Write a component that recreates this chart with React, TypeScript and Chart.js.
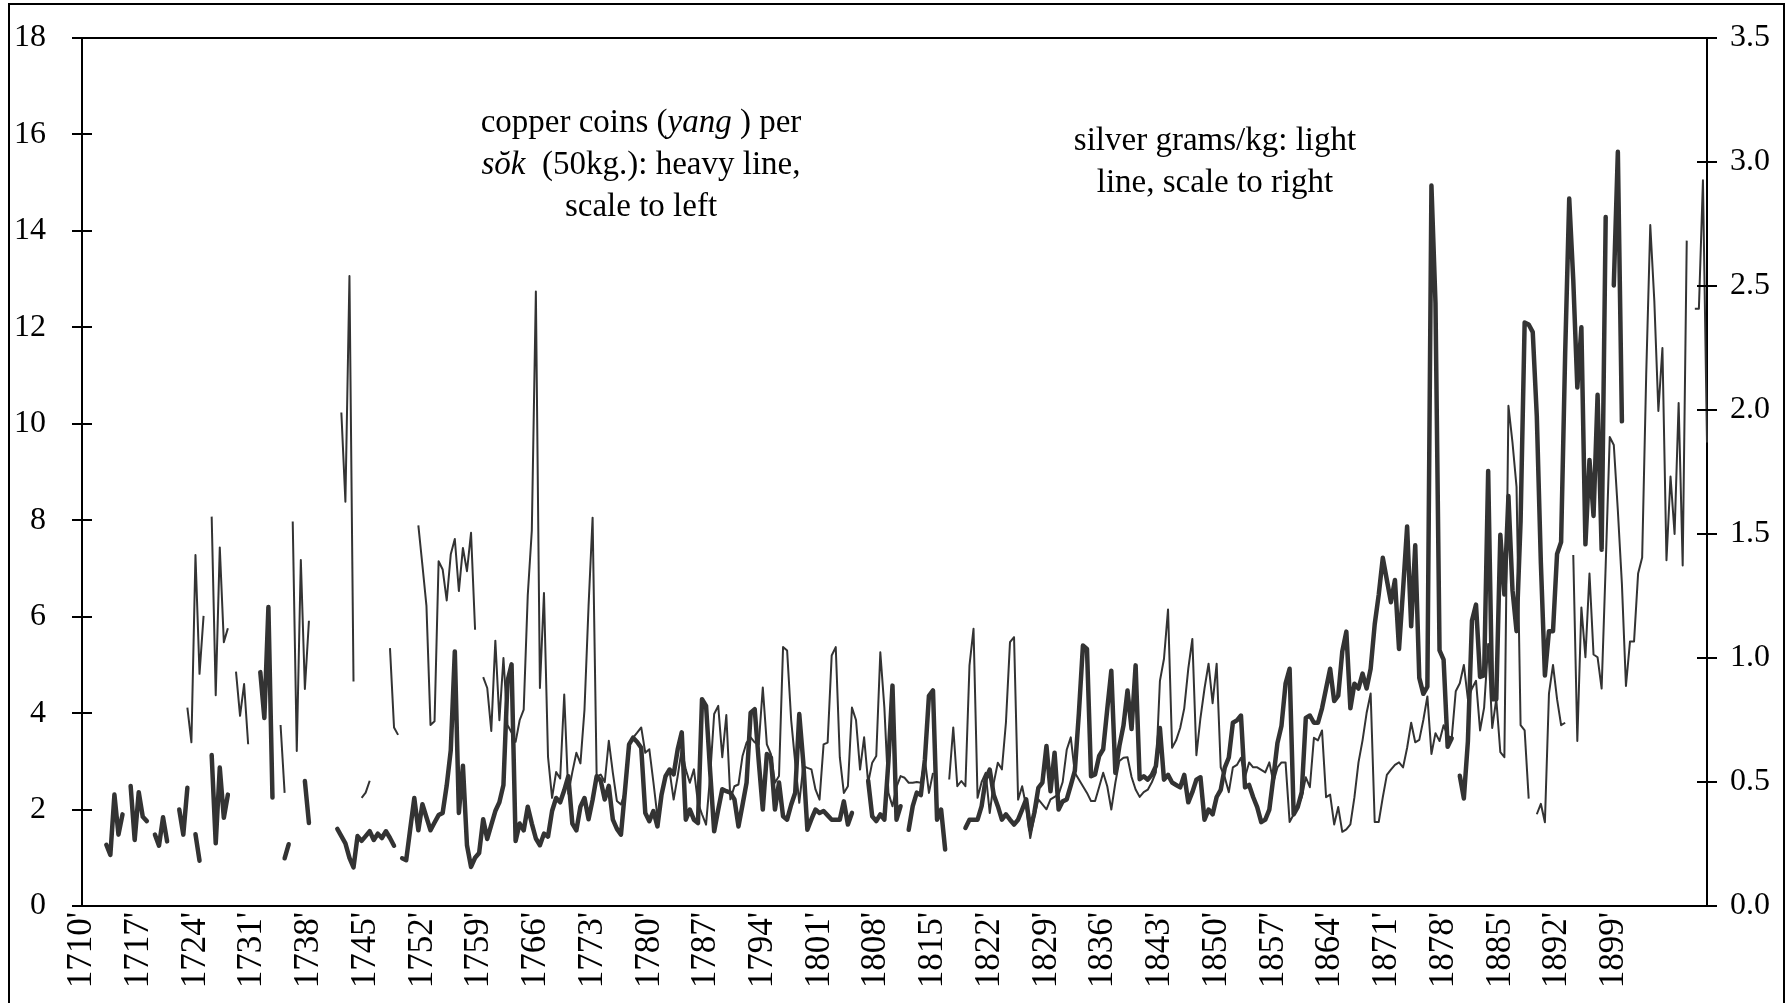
import React, { useEffect, useRef } from "react";
import { Chart, registerables } from "chart.js";

Chart.register(...registerables);

// Categories: two observations per year, 1710' .. 1910''
const firstYear = 1710;
const lastYear = 1910;
const categories: string[] = [];
for (let y = firstYear; y <= lastYear; y++) {
  categories.push(`${y}'`);
  categories.push(`${y}''`);
}

// Tick labels shown on the category axis
const xTickLabels = [
  "1710'", "1717'", "1724'", "1731'", "1738'", "1745'", "1752'", "1759'", "1766'", "1773'",
  "1780'", "1787'", "1794'", "1801'", "1808'", "1815'", "1822'", "1829'", "1836'", "1843'",
  "1850'", "1857'", "1864'", "1871'", "1878'", "1885'", "1892'", "1899'",
];

const leftTickValues = [0, 2, 4, 6, 8, 10, 12, 14, 16, 18];
const rightTickValues = [0, 0.5, 1.0, 1.5, 2.0, 2.5, 3.0, 3.5];

// copper coins (yang) per sok - heavy line, left scale
const copperYang: (number | null)[] = [
  null, null, null, null, null, null, 1.27, 1.06, 2.31, 1.48,
  1.9, null, 2.49, 1.37, 2.36, 1.85, 1.76, null, 1.48, 1.25,
  1.84, 1.34, null, null, 2.0, 1.48, 2.45, null, 1.49, 0.94,
  null, null, 3.13, 1.3, 2.87, 1.83, 2.31, null, null, null,
  null, null, null, null, 4.85, 3.9, 6.2, 2.25, null, null,
  0.99, 1.28, null, null, null, 2.59, 1.72, null, null, null,
  null, null, null, 1.6, 1.45, 1.3, 1.0, 0.8, 1.45, 1.35,
  1.45, 1.55, 1.37, 1.5, 1.41, 1.55, 1.41, 1.25, null, 0.99,
  0.95, 1.6, 2.24, 1.57, 2.11, 1.84, 1.57, 1.73, 1.885, 1.93,
  2.5, 3.23, 5.28, 1.93, 2.91, 1.26, 0.81, 1.0, 1.1, 1.8,
  1.39, 1.68, 1.97, 2.15, 2.51, 4.66, 5.01, 1.35, 1.71, 1.57,
  2.06, 1.71, 1.4, 1.26, 1.5, 1.44, 1.97, 2.24, 2.15, 2.4,
  2.69, 1.71, 1.57, 2.06, 2.24, 1.8, 2.2, 2.69, 2.6, 2.21,
  2.49, 1.79, 1.6, 1.48, 2.4, 3.35, 3.49, 3.4, 3.28, 1.93,
  1.76, 1.97, 1.65, 2.3, 2.69, 2.83, 2.73, 3.25, 3.6, 1.79,
  2.0, 1.79, 1.72, 4.29, 4.15, 2.8, 1.55, 2.0, 2.42, 2.38,
  2.35, 2.21, 1.65, 2.1, 2.56, 4.01, 4.08, 3.0, 2.0, 3.15,
  3.08, 2.0, 2.56, 1.86, 1.79, 2.1, 2.35, 3.98, 2.97, 1.58,
  1.8, 2.0, 1.93, 1.97, 1.88, 1.79, 1.79, 1.79, 2.17, 1.69,
  1.93, null, null, null, 2.6, 1.86, 1.76, 1.9, 1.79, 3.0,
  4.57, 1.79, 2.07, null, 1.58, 2.07, 2.35, 2.3, 3.04, 4.36,
  4.47, 1.79, 2.0, 1.17, null, null, null, null, 1.62, 1.79,
  1.79, 1.79, 2.07, 2.63, 2.83, 2.3, 2.07, 1.79, 1.9, 1.79,
  1.69, 1.79, 2.0, 2.21, 1.58, 1.93, 2.45, 2.56, 3.32, 2.38,
  3.18, 2.0, 2.17, 2.21, 2.5, 2.8, 4.0, 5.4, 5.33, 2.69,
  2.73, 3.11, 3.25, 4.08, 4.88, 2.76, 3.32, 3.74, 4.47, 3.67,
  4.99, 2.63, 2.69, 2.62, 2.72, 2.9, 3.69, 2.62, 2.72, 2.56,
  2.51, 2.46, 2.72, 2.15, 2.36, 2.62, 2.67, 1.79, 2.0, 1.9,
  2.26, 2.41, 2.87, 3.08, 3.8, 3.85, 3.95, 2.46, 2.51, 2.26,
  2.05, 1.74, 1.79, 2.0, 2.67, 3.38, 3.74, 4.61, 4.92, 1.9,
  2.05, 2.36, 3.9, 3.95, 3.8, 3.8, 4.1, 4.51, 4.92, 4.25,
  4.36, 5.28, 5.69, 4.1, 4.61, 4.51, 4.82, 4.51, 4.92, 5.84,
  6.46, 7.22, 6.76, 6.3, 6.76, 5.33, 6.56, 7.87, 5.8, 7.48,
  4.73, 4.4, 4.55, 14.94, 12.5, 5.3, 5.11, 3.3, 3.48, null,
  2.7, 2.23, 3.42, 5.92, 6.25, 4.75, 4.78, 9.02, 4.29, 4.29,
  7.7, 6.46, 8.5, 6.55, 5.7, 7.98, 12.1, 12.06, 11.9, 10.16,
  7.12, 4.78, 5.7, 5.7, 7.3, 7.55, 11.46, 14.67, 12.98, 10.75,
  12.0, 7.5, 9.25, 8.09, 10.6, 7.39, 14.29, null, 12.87, 15.64,
  10.05, null, null, null, null, null, null, null, null, null,
  null, null, null, null, null, null, null, null, null, null,
  null, null,
];

// silver grams per kg - light line, right scale
const silverGramsPerKg: (number | null)[] = [
  null, null, null, null, null, null, null, null, null, null,
  null, null, null, null, null, null, null, null, null, null,
  null, null, null, null, null, null, 0.8, 0.66, 1.415, 0.936,
  1.17, null, 1.57, 0.85, 1.446, 1.064, 1.12, null, 0.945, 0.767,
  0.895, 0.652, null, null, null, null, null, null, null, 0.73,
  0.456, null, 1.55, 0.625, 1.395, 0.875, 1.15, null, null, null,
  null, null, null, null, 1.99, 1.63, 2.54, 0.905, null, 0.436,
  0.457, 0.505, null, null, null, null, 1.04, 0.72, 0.69, null,
  null, null, null, 1.535, 1.375, 1.21, 0.73, 0.745, 1.39, 1.357,
  1.232, 1.418, 1.48, 1.27, 1.444, 1.35, 1.505, 1.114, null, 0.923,
  0.879, 0.706, 1.07, 0.749, 1.0, 0.73, 0.7, 0.662, 0.749, 0.792,
  1.253, 1.514, 2.478, 0.879, 1.262, 0.601, 0.436, 0.54, 0.514, 0.853,
  0.453, 0.54, 0.618, 0.575, 0.792, 1.209, 1.566, 0.523, 0.53, 0.5,
  0.666, 0.537, 0.423, 0.409, 0.46, 0.652, 0.679, 0.699, 0.72, 0.618,
  0.632, 0.5, 0.36, 0.45, 0.524, 0.544, 0.429, 0.524, 0.632, 0.55,
  0.497, 0.551, 0.416, 0.37, 0.328, 0.524, 0.774, 0.807, 0.6, 0.77,
  0.43, 0.483, 0.49, 0.605, 0.659, 0.68, 0.66, 0.652, 0.881, 0.652,
  0.612, 0.497, 0.524, 1.044, 1.03, 0.75, 0.578, 0.416, 0.564, 0.557,
  0.551, 0.47, 0.429, 0.652, 0.659, 1.01, 1.044, 0.6, 0.456, 0.483,
  0.8, 0.75, 0.55, 0.68, 0.497, 0.578, 0.605, 1.023, 0.8, 0.456,
  0.402, 0.48, 0.524, 0.517, 0.497, 0.497, 0.5, 0.497, 0.591, 0.456,
  0.537, null, null, null, 0.51, 0.72, 0.483, 0.504, 0.483, 0.969,
  1.118, 0.436, 0.5, 0.537, 0.375, 0.497, 0.578, 0.551, 0.74, 1.064,
  1.084, 0.429, 0.483, 0.4, 0.274, 0.36, 0.43, 0.41, 0.39, 0.43,
  0.44, 0.45, 0.5, 0.63, 0.68, 0.537, 0.51, 0.483, 0.456, 0.423,
  0.423, 0.48, 0.537, 0.483, 0.389, 0.497, 0.585, 0.598, 0.6, 0.52,
  0.47, 0.44, 0.459, 0.469, 0.499, 0.539, 0.908, 0.997, 1.196, 0.638,
  0.668, 0.718, 0.797, 0.957, 1.077, 0.608, 0.758, 0.877, 0.977, 0.818,
  0.977, 0.559, 0.519, 0.459, 0.559, 0.569, 0.598, 0.519, 0.579, 0.559,
  0.559, 0.549, 0.539, 0.579, 0.499, 0.559, 0.579, 0.579, 0.339, 0.369,
  0.399, 0.439, 0.519, 0.479, 0.678, 0.668, 0.708, 0.439, 0.449, 0.329,
  0.399, 0.299, 0.309, 0.329, 0.439, 0.579, 0.668, 0.778, 0.857, 0.339,
  0.339, 0.439, 0.529, 0.55, 0.569, 0.579, 0.559, 0.638, 0.739, 0.66,
  0.67, 0.75, 0.845, 0.613, 0.697, 0.665, 0.729, 0.687, 0.676, 0.866,
  0.898, 0.972, 0.834, 0.877, 0.908, 0.708, 0.8, 1.056, 0.718, 0.834,
  0.62, 0.6, 2.017, 1.869, 1.69, 0.729, 0.708, 0.433, null, 0.37,
  0.412, 0.338, 0.856, 0.972, 0.834, 0.729, 0.739, null, 1.415, 0.665,
  1.204, 1.003, 1.341, 1.014, 1.003, 0.877, 1.373, 1.891, 1.859, 1.595,
  1.299, 0.887, 1.067, 1.067, 1.341, 1.405, 2.144, 2.746, 2.44, 1.996,
  2.25, 1.394, 1.732, 1.5, 2.028, 1.373, 2.683, null, 2.408, 2.408,
  2.926, 1.869,
];

const W = 1787;
const H = 1003;
const PLOT_LEFT = 82;
const PLOT_RIGHT = 1707;
const PLOT_TOP = 38;
const PLOT_BOTTOM = 906;
const FONT = "'Liberation Serif', 'Times New Roman', Times, serif";

const axisDecor = {
  id: "axisDecor",
  afterDraw(chart: any) {
    const { ctx, chartArea, scales } = chart;
    const { left, right, top } = chartArea;
    ctx.save();
    ctx.strokeStyle = "#000";
    ctx.lineWidth = 2;
    ctx.beginPath();
    ctx.moveTo(left - 1, top);
    ctx.lineTo(right + 1, top);
    for (const v of leftTickValues) {
      const y = Math.round(scales.y.getPixelForValue(v));
      ctx.moveTo(left - 10, y);
      ctx.lineTo(left + 10, y);
    }
    for (const v of rightTickValues) {
      const y = Math.round(scales.y2.getPixelForValue(v));
      ctx.moveTo(right - 10, y);
      ctx.lineTo(right + 10, y);
    }
    ctx.stroke();
    ctx.restore();
  },
};

export default function App() {
  const canvasRef = useRef<HTMLCanvasElement | null>(null);

  useEffect(() => {
    const canvas = canvasRef.current;
    if (!canvas) return;
    const chart = new Chart(canvas, {
      type: "line",
      data: {
        labels: categories,
        datasets: [
          {
            label: "silver grams/kg",
            data: silverGramsPerKg,
            yAxisID: "y2",
            borderColor: "#333333",
            borderWidth: 2,
            pointRadius: 0,
            tension: 0,
            spanGaps: false,
            borderJoinStyle: "round",
            borderCapStyle: "butt",
          },
          {
            label: "copper coins (yang) per sok",
            data: copperYang,
            yAxisID: "y",
            borderColor: "#333333",
            borderWidth: 4.5,
            pointRadius: 0,
            tension: 0,
            spanGaps: false,
            borderJoinStyle: "round",
            borderCapStyle: "round",
          },
        ],
      },
      options: {
        responsive: false,
        animation: false,
        devicePixelRatio: 1,
        layout: { padding: { left: 0, right: 0, top: PLOT_TOP, bottom: 0 } },
        plugins: {
          legend: { display: false },
          tooltip: { enabled: false },
          title: { display: false },
        },
        scales: {
          x: {
            type: "category",
            offset: false,
            grid: { display: true, drawOnChartArea: false, drawTicks: false },
            border: { display: true, color: "#000", width: 2 },
            ticks: {
              autoSkip: false,
              minRotation: 90,
              maxRotation: 90,
              padding: 6,
              color: "#000",
              font: { family: FONT, size: 35 },
              callback: (_v: any, index: number) => {
                const lab = categories[index];
                return xTickLabels.includes(lab) ? lab : null;
              },
            },
            afterFit: (scale: any) => {
              scale.height = H - PLOT_BOTTOM;
              scale.paddingLeft = 0;
              scale.paddingRight = 0;
            },
          },
          y: {
            position: "left",
            min: 0,
            max: 18,
            grid: { display: true, drawOnChartArea: false, drawTicks: false },
            border: { display: true, color: "#000", width: 2 },
            ticks: {
              stepSize: 2,
              padding: 36,
              color: "#000",
              font: { family: FONT, size: 32 },
            },
            afterFit: (scale: any) => {
              scale.width = PLOT_LEFT;
              scale.paddingTop = 0;
              scale.paddingBottom = 0;
            },
          },
          y2: {
            position: "right",
            min: 0,
            max: 3.5,
            grid: { display: true, drawOnChartArea: false, drawTicks: false },
            border: { display: true, color: "#000", width: 2 },
            ticks: {
              stepSize: 0.5,
              padding: 23,
              color: "#000",
              font: { family: FONT, size: 32 },
              callback: (v: any) => Number(v).toFixed(1),
            },
            afterFit: (scale: any) => {
              scale.width = W - PLOT_RIGHT;
              scale.paddingTop = 0;
              scale.paddingBottom = 0;
            },
          },
        },
      },
      plugins: [axisDecor],
    });
    return () => chart.destroy();
  }, []);

  const textStyle: React.CSSProperties = {
    position: "absolute",
    width: 520,
    textAlign: "center",
    fontFamily: FONT,
    fontSize: 33,
    lineHeight: "42px",
    color: "#000",
    whiteSpace: "pre",
  };

  return (
    <div
      style={{
        position: "absolute",
        left: 0,
        top: 0,
        width: W,
        height: H,
        overflow: "hidden",
        background: "#fff",
      }}
    >
      <canvas
        ref={canvasRef}
        width={W}
        height={H}
        style={{ position: "absolute", left: 0, top: 0, width: W, height: H, display: "block" }}
      />
      <div
        style={{
          position: "absolute",
          left: 8,
          top: 3,
          width: 1777,
          height: H - 3,
          borderLeft: "2px solid #000",
          borderTop: "2px solid #000",
          borderRight: "2px solid #000",
          boxSizing: "border-box",
          pointerEvents: "none",
        }}
      />
      <div style={{ ...textStyle, left: 641 - 260, top: 100 }}>
        <div>
          copper coins (<i>yang</i> ) per
        </div>
        <div>
          <i>sŏk</i>  (50kg.): heavy line,
        </div>
        <div>scale to left</div>
      </div>
      <div style={{ ...textStyle, left: 1215 - 260, top: 118 }}>
        <div>silver grams/kg: light</div>
        <div>line, scale to right</div>
      </div>
    </div>
  );
}
